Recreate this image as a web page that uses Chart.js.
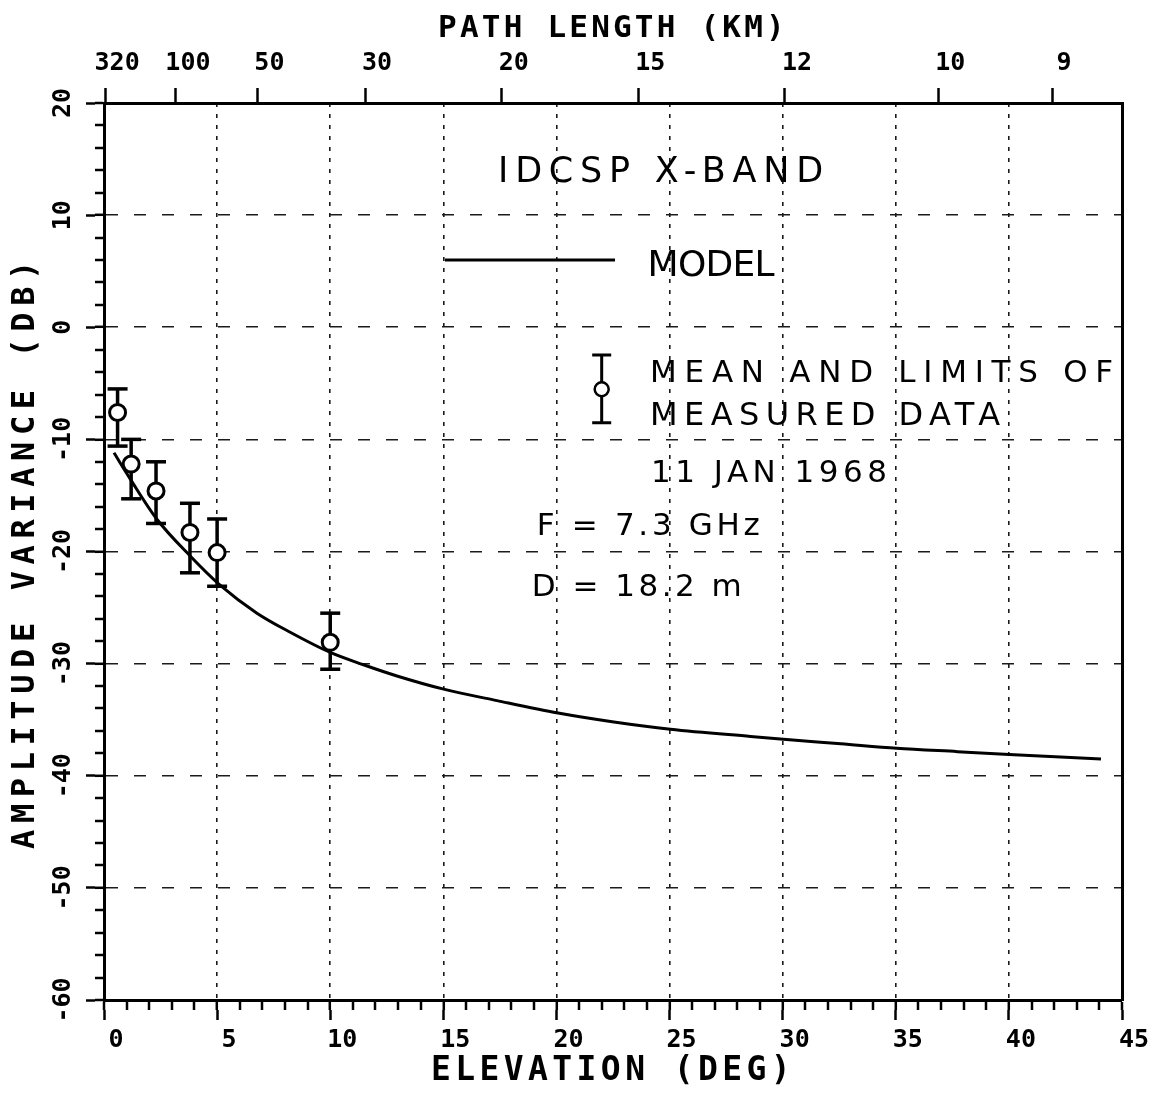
<!DOCTYPE html>
<html><head><meta charset="utf-8">
<script src="https://cdn.jsdelivr.net/npm/chart.js@4.4.1/dist/chart.umd.min.js"></script>
<style>html,body{margin:0;padding:0;background:#fff}canvas{display:block}</style>
</head><body>
<canvas id="c" width="1153" height="1093"></canvas>
<script>
// ---- data ----
const elevation = [0.6, 1.2, 2.3, 3.8, 5.0, 10.0];
const meanDb    = [-7.6, -12.2, -14.6, -18.3, -20.1, -28.1];
const upperDb   = [-5.5, -10.0, -12.0, -15.7, -17.1, -25.5];
const lowerDb   = [-10.6, -15.3, -17.5, -21.9, -23.1, -30.5];

const modelElev = [0.44, 1.15, 2.33, 3.81, 5.13, 6.76, 8.23, 10.0, 11.47, 12.95, 15.06, 17.37, 20.07, 22.54, 25.04, 28.58, 30.03, 32.57, 35.04, 37.73, 40.01, 44.07];
const modelDb   = [-11.2, -13.5, -17.1, -20.4, -23.0, -25.5, -27.2, -29.0, -30.1, -31.1, -32.3, -33.3, -34.4, -35.2, -35.85, -36.5, -36.75, -37.15, -37.55, -37.85, -38.1, -38.5];

const elevTicks      = [0, 5, 10, 15, 20, 25, 30, 35, 40, 45];
const elevTickLabels = ['0', '5', '10', '15', '20', '25', '30', '35', '40', '45'];
const elevMinorTicks = [0,1,2,3,4,5,6,7,8,9,10,11,12,13,14,15,16,17,18,19,20,21,22,23,24,25,26,27,28,29,30,31,32,33,34,35,36,37,38,39,40,41,42,43,44,45];

const dbTicks      = [-60, -50, -40, -30, -20, -10, 0, 10, 20];
const dbTickLabels = ['-60', '-50', '-40', '-30', '-20', '-10', '0', '10', '20'];
const dbMinorTicks = [-60,-58,-56,-54,-52,-50,-48,-46,-44,-42,-40,-38,-36,-34,-32,-30,-28,-26,-24,-22,-20,-18,-16,-14,-12,-10,-8,-6,-4,-2,0,2,4,6,8,10,12,14,16,18,20];

const pathLengthKm   = ['320', '100', '50', '30', '20', '15', '12', '10', '9'];
const pathLengthElev = [0.05, 3.18, 6.78, 11.54, 17.58, 23.62, 30.1, 36.88, 41.91];

// ---- annotation text (anchors in data units, layout in px) ----
const annotations = [
  {text: 'IDCSP X-BAND',        x: 17.42, y: 12.93,  size: 35, width: 325},
  {text: 'MODEL',               x: 24.03, y: 4.6,    size: 36, width: 127},
  {text: 'MEAN AND LIMITS OF',  x: 24.14, y: -4.91,  size: 31, width: 463},
  {text: 'MEASURED DATA',       x: 24.14, y: -8.72,  size: 32, width: 350},
  {text: '11 JAN 1968',         x: 24.18, y: -13.83, size: 31, width: 236},
  {text: 'F = 7.3 GHz',         x: 19.13, y: -18.53, size: 31, width: 223},
  {text: 'D = 18.2 m',          x: 18.91, y: -23.94, size: 31, width: 210}
];
const legendLine = {x0: 15.07, x1: 22.59, y: 6.0};
const legendBar  = {x: 22.0, top: -2.47, mid: -5.53, bottom: -8.51};

// ---- build datasets ----
const modelPts = modelElev.map((x, i) => ({x, y: modelDb[i]}));
const meanPts = elevation.map((x, i) => ({x, y: meanDb[i]}));
const capPts = [];
const stemPts = [];
elevation.forEach((x, i) => {
  capPts.push({x, y: upperDb[i]}, {x, y: lowerDb[i]});
  stemPts.push({x, y: upperDb[i]}, {x, y: lowerDb[i]}, {x, y: null});
});

const black = '#000';
const tickFont = {family: 'DejaVu Sans Mono', weight: 'bold', size: 25};
const titleSpacing = {xTop: 3.2, xMajor: 4.4, yMajor: 6.6};

function fitText(ctx, text, x, y, width) {
  ctx.letterSpacing = '0px';
  const w = ctx.measureText(text).width;
  const ls = text.length > 1 ? (width - w) / (text.length - 1) : 0;
  ctx.letterSpacing = ls + 'px';
  ctx.fillText(text, x, y);
  ctx.letterSpacing = '0px';
}

const bgPlugin = {
  id: 'bg',
  beforeDraw(chart) {
    const {ctx} = chart;
    ctx.save();
    ctx.fillStyle = '#fff';
    ctx.fillRect(0, 0, chart.width, chart.height);
    ctx.restore();
    for (const id in titleSpacing) {
      const s = chart.scales[id];
      if (s && !s._lsPatched) {
        const orig = s.drawTitle.bind(s);
        const ls = titleSpacing[id];
        s.drawTitle = function () {
          const c = this.ctx;
          c.save();
          c.letterSpacing = ls + 'px';
          orig();
          c.restore();
        };
        s._lsPatched = true;
      }
    }
  }
};

const annotPlugin = {
  id: 'annot',
  afterDatasetsDraw(chart) {
    const {ctx} = chart;
    const xs = chart.scales.x, ys = chart.scales.y;
    ctx.save();
    ctx.fillStyle = black;
    ctx.strokeStyle = black;
    ctx.textAlign = 'left';
    ctx.textBaseline = 'alphabetic';
    for (const a of annotations) {
      ctx.font = a.size + 'px "DejaVu Sans", sans-serif';
      fitText(ctx, a.text, xs.getPixelForValue(a.x), ys.getPixelForValue(a.y), a.width);
    }
    // legend: model line
    ctx.lineWidth = 3;
    ctx.beginPath();
    ctx.moveTo(xs.getPixelForValue(legendLine.x0), ys.getPixelForValue(legendLine.y));
    ctx.lineTo(xs.getPixelForValue(legendLine.x1), ys.getPixelForValue(legendLine.y));
    ctx.stroke();
    // legend: error bar symbol
    const bx = xs.getPixelForValue(legendBar.x);
    const bt = ys.getPixelForValue(legendBar.top);
    const bb = ys.getPixelForValue(legendBar.bottom);
    const bm = ys.getPixelForValue(legendBar.mid);
    ctx.beginPath();
    ctx.moveTo(bx, bt); ctx.lineTo(bx, bb);
    ctx.moveTo(bx - 9.5, bt); ctx.lineTo(bx + 9.5, bt);
    ctx.moveTo(bx - 9.5, bb); ctx.lineTo(bx + 9.5, bb);
    ctx.stroke();
    ctx.beginPath();
    ctx.arc(bx, bm, 7, 0, Math.PI * 2);
    ctx.fillStyle = '#fff';
    ctx.fill();
    ctx.lineWidth = 2.5;
    ctx.stroke();
    ctx.restore();
  }
};

const gridColor = '#1a1a1a';

new Chart(document.getElementById('c'), {
  data: {
    datasets: [
      {type: 'scatter', label: 'mean', data: meanPts, order: 0,
       pointStyle: 'circle', pointRadius: 8, pointBorderWidth: 3,
       pointBackgroundColor: '#fff', pointBorderColor: black},
      {type: 'scatter', label: 'caps', data: capPts, order: 1,
       pointStyle: 'line', pointRadius: 10, pointBorderWidth: 3.5, pointBorderColor: black},
      {type: 'line', label: 'stems', data: stemPts, order: 2, spanGaps: false,
       borderColor: black, borderWidth: 3.5, pointRadius: 0, fill: false},
      {type: 'line', label: 'MODEL', data: modelPts, order: 3,
       borderColor: black, borderWidth: 3, pointRadius: 0, fill: false,
       cubicInterpolationMode: 'monotone'}
    ]
  },
  options: {
    responsive: false,
    animation: false,
    layout: {padding: {left: 0, right: 31, top: 0, bottom: 0}},
    plugins: {legend: {display: false}, tooltip: {enabled: false}},
    scales: {
      x: {
        type: 'linear', position: 'bottom', min: 0, max: 45, weight: 0,
        afterBuildTicks: s => { s.ticks = elevMinorTicks.map(v => ({value: v})); },
        afterFit: s => { s.height = 10; },
        ticks: {display: false, autoSkip: false},
        grid: {
          drawOnChartArea: true, drawTicks: true, tickLength: 10, tickWidth: 2.5, tickColor: black,
          tickBorderDash: [],
          color: gridColor,
          lineWidth: c => (c.tick && c.tick.value % 5 === 0 && c.tick.value > 0 && c.tick.value < 45) ? 1.6 : 0
        },
        border: {display: true, width: 3, color: black, dash: [4, 7]}
      },
      xMajor: {
        type: 'linear', position: 'bottom', min: 0, max: 45, weight: 1,
        afterBuildTicks: s => { s.ticks = elevTicks.map(v => ({value: v})); },
        afterFit: s => { s.height = 83; },
        ticks: {autoSkip: false, minRotation: 0, maxRotation: 0, labelOffset: 12, padding: 5,
                font: tickFont, color: black, callback: (v, i) => elevTickLabels[i]},
        grid: {drawOnChartArea: false, tickLength: 10, tickWidth: 2.5, tickColor: black},
        border: {display: false},
        title: {display: true, text: 'ELEVATION (DEG)', color: black,
                font: {family: 'DejaVu Sans Mono', weight: 'bold', size: 33},
                padding: {top: 0, bottom: 2}}
      },
      xTop: {
        type: 'linear', position: 'top', min: 0, max: 45,
        afterBuildTicks: s => { s.ticks = pathLengthElev.map(v => ({value: v})); },
        afterFit: s => { s.height = 103; },
        ticks: {autoSkip: false, minRotation: 0, maxRotation: 0, labelOffset: 12, padding: 10,
                font: tickFont, color: black, callback: (v, i) => pathLengthKm[i]},
        grid: {drawOnChartArea: false, tickLength: 15, tickWidth: 2.5, tickColor: black},
        border: {display: true, width: 3, color: black},
        title: {display: true, text: 'PATH LENGTH (KM)', color: black,
                font: {family: 'DejaVu Sans Mono', weight: 'bold', size: 31},
                padding: {top: 10, bottom: 0}}
      },
      y: {
        type: 'linear', position: 'left', min: -60, max: 20, weight: 0,
        afterBuildTicks: s => { s.ticks = dbMinorTicks.map(v => ({value: v})); },
        afterFit: s => { s.width = 9; },
        ticks: {display: false, autoSkip: false},
        grid: {
          drawOnChartArea: true, drawTicks: true, tickLength: 9, tickWidth: 2.5, tickColor: black,
          tickBorderDash: [],
          color: gridColor,
          lineWidth: c => (c.tick && c.tick.value % 10 === 0 && c.tick.value > -60 && c.tick.value < 20) ? 1.6 : 0
        },
        border: {display: true, width: 3, color: black, dash: [12, 16]}
      },
      yMajor: {
        type: 'linear', position: 'left', min: -60, max: 20, weight: 1,
        afterBuildTicks: s => { s.ticks = dbTicks.map(v => ({value: v})); },
        afterFit: s => { s.width = 95; },
        ticks: {autoSkip: false, minRotation: 90, maxRotation: 90, crossAlign: 'center', padding: 0,
                font: tickFont, color: black, callback: (v, i) => dbTickLabels[i]},
        grid: {drawOnChartArea: false, tickLength: 9, tickWidth: 2.5, tickColor: black},
        border: {display: false},
        title: {display: true, text: 'AMPLITUDE VARIANCE (DB)', color: black,
                font: {family: 'DejaVu Sans Mono', weight: 'bold', size: 32},
                padding: {top: 6, bottom: 0}}
      },
      yRight: {
        type: 'linear', position: 'right', min: -60, max: 20,
        afterFit: s => { s.width = 0; },
        ticks: {display: false},
        grid: {drawOnChartArea: false, drawTicks: false},
        border: {display: true, width: 3, color: black}
      }
    }
  },
  plugins: [bgPlugin, annotPlugin]
});
</script>
</body></html>
